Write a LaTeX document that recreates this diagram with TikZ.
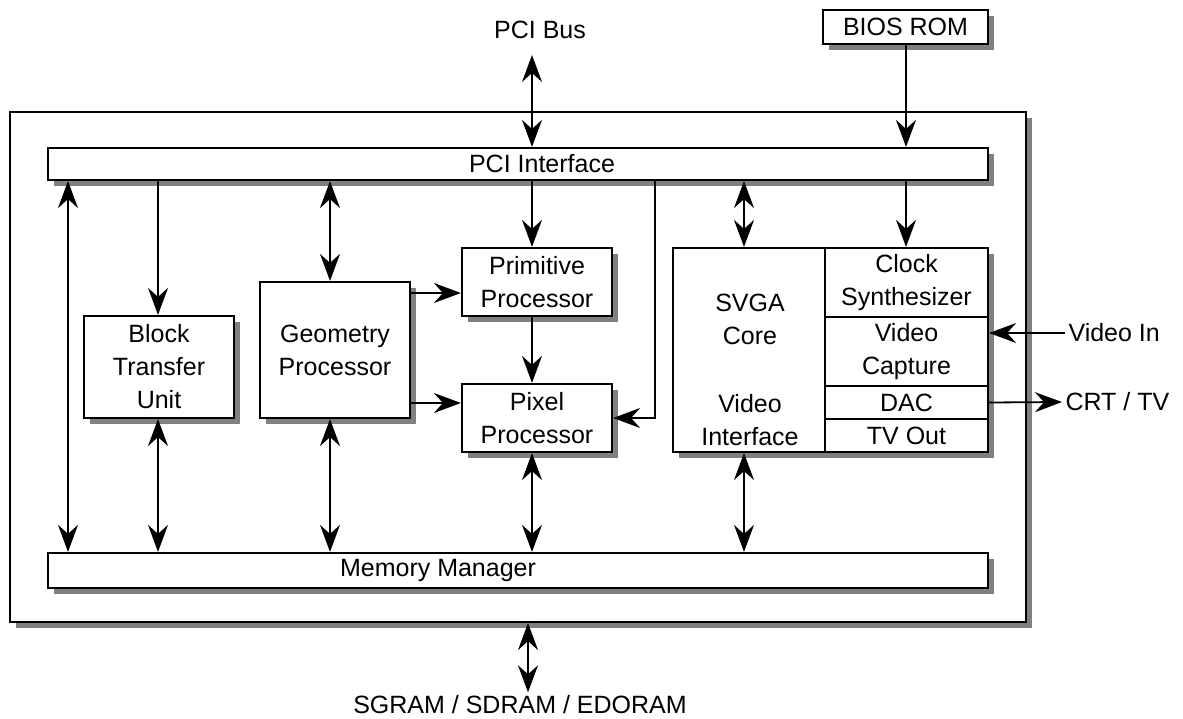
\documentclass[tikz,border=0pt]{standalone}
\usepackage{fontspec}
\setmainfont{Liberation Sans}
\usetikzlibrary{arrows.meta,shadows}

\begin{document}
\begin{tikzpicture}[x=1pt,y=-1pt,
    >={Stealth[length=27pt,width=20pt,inset=9pt]},
    every node/.style={font=\fontsize{25}{33}\selectfont,align=center},
    blk/.style={draw,line width=2.2pt,fill=white,inner sep=0pt,
      drop shadow={shadow xshift=6pt,shadow yshift=-6pt,fill=black!50,opacity=1}},
    cell/.style={draw,line width=2.2pt,fill=white,inner sep=0pt},
    link/.style={line width=1.8pt}
  ]
    \useasboundingbox (0,0) rectangle (1183,719);

    % chip outline and the two buses
    \node[blk,minimum width=1016,minimum height=510] (chip) at (518,367) {};
    \node[blk,minimum width=940,minimum height=32,
      label={[xshift=24pt]center:PCI Interface}] (pci) at (518,164) {};
    \node[blk,minimum width=940,minimum height=35,
      label={[xshift=-80pt]center:Memory Manager}] (mem) at (518,570.5) {};

    % outside world
    \node[blk,minimum width=165,minimum height=34] (bios) at (905.5,27) {BIOS ROM};
    \node (pcibus) at (540,30) {PCI Bus};
    \node (ram) at (520,705) {SGRAM / SDRAM / EDORAM};
    \node[anchor=west] (vidin) at (1065,333) {Video In};
    \node[anchor=west] (crt) at (1062,402) {CRT / TV};
    \coordinate (pcitop) at (532,55);

    % units
    \node[blk,minimum width=150,minimum height=102] (btu) at (159,367) {Block\\Transfer\\Unit};
    \node[blk,minimum width=150,minimum height=136] (geo) at (335,350) {Geometry\\Processor};
    \node[blk,minimum width=150,minimum height=68] (prim) at (537,282) {Primitive\\Processor};
    \node[blk,minimum width=150,minimum height=68] (pix) at (537,418) {Pixel\\Processor};
    \node[blk,minimum width=315,minimum height=204] (svga) at (830.5,350) {};
    \node (core) at (750,319) {SVGA\\Core};
    \node (vif) at (750,420) {Video\\Interface};
    \node[cell,minimum width=163,minimum height=69] (clk) at (906.5,282.5) {Clock\\Synthesizer};
    \node[cell,minimum width=163,minimum height=69] (cap) at (906.5,351.5) {Video\\Capture};
    \node[cell,minimum width=163,minimum height=33] (dac) at (906.5,402.5) {DAC};
    \node[cell,minimum width=163,minimum height=33] (tvo) at (906.5,435.5) {TV Out};

    % x positions of the vertical links
    \coordinate (xa) at (68,0);
    \coordinate (xb) at (158,0);
    \coordinate (xc) at (330,0);
    \coordinate (xd) at (532,0);
    \coordinate (xe) at (655,0);
    \coordinate (xf) at (744,0);
    \coordinate (xg) at (906,0);
    \coordinate (xh) at (528,0);
    \coordinate (ya) at (0,293);
    \coordinate (yb) at (0,403);

    \draw[link,<->] (pcitop) -- (pci.north -| pcitop);
    \draw[link,->] (bios.south -| xg) -- (pci.north -| xg);
    \draw[link,<->] (chip.south -| xh) -- (ram.north -| xh);

    \draw[link,<->] (pci.south -| xa) -- (mem.north -| xa);
    \draw[link,->] (pci.south -| xb) -- (btu.north -| xb);
    \draw[link,<->] (btu.south -| xb) -- (mem.north -| xb);
    \draw[link,<->] (pci.south -| xc) -- (geo.north -| xc);
    \draw[link,<->] (geo.south -| xc) -- (mem.north -| xc);
    \draw[link,->] (pci.south -| xd) -- (prim.north -| xd);
    \draw[link,->] (prim.south -| xd) -- (pix.north -| xd);
    \draw[link,<->] (pix.south -| xd) -- (mem.north -| xd);
    \draw[link,->] (pci.south -| xe) |- (pix.east);
    \draw[link,<->] (pci.south -| xf) -- (svga.north -| xf);
    \draw[link,<->] (svga.south -| xf) -- (mem.north -| xf);
    \draw[link,->] (pci.south -| xg) -- (clk.north -| xg);

    \draw[link,->] (geo.east |- ya) -- (prim.west |- ya);
    \draw[link,->] (geo.east |- yb) -- (pix.west |- yb);
    \draw[link,->] (vidin.west) -- (cap.east |- vidin);
    \draw[link,->] (dac.east) -- (crt.west);
\end{tikzpicture}
\end{document}
